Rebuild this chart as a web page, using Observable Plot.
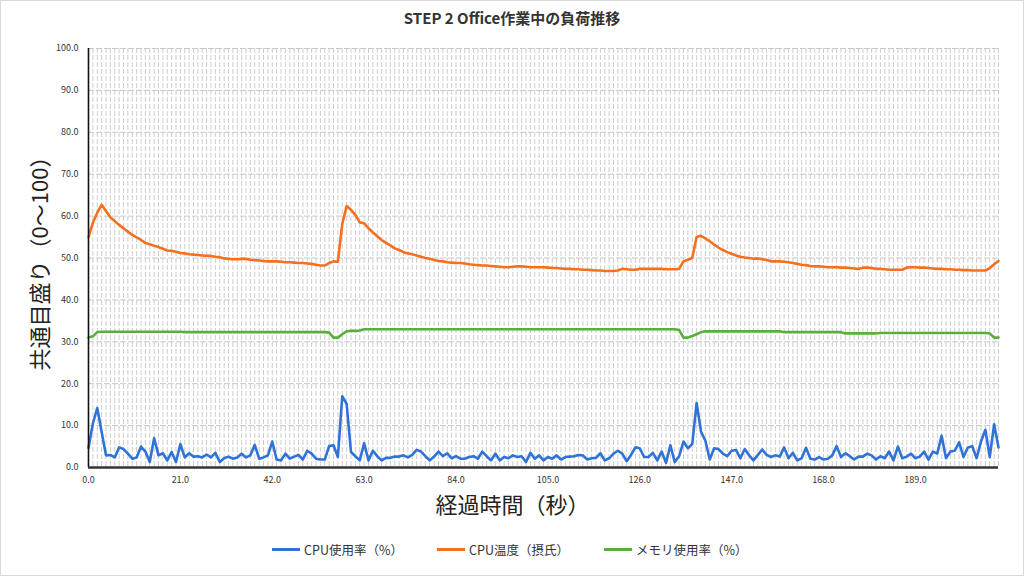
<!DOCTYPE html>
<html><head><meta charset="utf-8">
<script src="https://cdn.jsdelivr.net/npm/d3@7"></script>
<script src="https://cdn.jsdelivr.net/npm/@observablehq/plot@0.6"></script>
<style>
body{margin:0;background:#fff;font-family:"Noto Sans CJK JP","Noto Sans",sans-serif;}
#wrap{position:relative;width:1024px;height:576px;overflow:hidden;background:#fff}
#border{position:absolute;left:0;top:0;width:1022px;height:574px;border:1px solid #d9d9d9;pointer-events:none}
#title{height:36px;line-height:36px;text-align:center;font-weight:bold;font-size:15px;color:#333}
#legend{position:relative;height:51px}
.item{position:absolute;top:15px;display:flex;align-items:center;font-size:12.5px;color:#333;white-space:nowrap}
.sw{width:28px;height:3px;margin-right:4px}
</style></head>
<body><div id="wrap"><div id="title">STEP 2 Office作業中の負荷推移</div><div id="chart"></div><div id="legend"></div><div id="border"></div></div>
<script>
const seriesNames = ["CPU使用率（%）", "CPU温度（摂氏）", "メモリ使用率（%）"];
const seriesColors = ["#2f72d8", "#f5701e", "#5aae3c"];
const xTicks = [0, 21, 42, 63, 84, 105, 126, 147, 168, 189];
const yTicks = [0, 10, 20, 30, 40, 50, 60, 70, 80, 90, 100];

const cpuUsage = [
4.7,10.5,14.2,8.5,2.9,3.0,2.4,4.8,4.4,3.3,
2.1,2.4,5.0,3.8,1.3,7.0,2.9,3.4,1.7,3.7,
1.3,5.6,2.4,3.4,2.6,2.7,2.4,3.1,2.4,3.5,
1.3,2.2,2.6,2.1,2.4,3.3,2.4,2.9,5.4,2.1,
2.4,2.9,6.2,1.9,1.7,3.3,2.1,2.6,3.0,1.9,
4.0,3.3,2.1,1.9,1.9,5.1,5.3,2.5,17.0,15.2,
3.7,2.7,1.7,5.8,1.7,4.0,2.7,1.7,2.3,2.3,
2.6,2.6,2.9,2.4,3.0,4.2,3.8,2.7,1.7,2.6,
3.8,2.7,3.4,2.2,2.7,2.1,2.1,2.5,2.7,2.1,
3.8,2.7,1.7,3.3,1.7,2.5,2.2,2.9,2.5,2.7,
1.3,3.5,2.1,2.9,1.7,2.5,2.1,2.9,1.9,2.5,
2.6,2.7,3.0,2.9,1.9,2.2,2.3,3.4,1.7,2.2,
3.3,4.0,3.3,1.5,3.0,4.8,4.6,2.5,2.5,3.5,
1.7,3.8,1.1,5.3,1.3,2.7,6.2,4.6,5.6,15.4,
8.6,6.4,1.9,4.6,4.4,3.3,2.7,4.0,4.2,2.2,
4.4,2.9,1.7,3.0,4.3,3.0,2.5,2.9,2.6,4.8,
2.2,3.5,1.7,2.2,4.7,2.1,1.9,2.5,1.9,2.1,
2.9,5.1,2.5,3.4,2.7,1.9,2.6,2.6,3.3,2.9,
1.9,2.7,2.2,3.8,1.7,5.0,2.2,2.6,3.3,2.2,
2.6,3.8,1.9,3.8,3.3,7.6,2.2,3.8,4.0,6.0,
2.5,4.8,5.1,2.2,6.2,9.0,2.5,10.3,4.8];

const cpuTemp = [
55.0,58.4,60.8,62.7,61.2,59.7,58.8,57.9,57.1,56.3,
55.5,54.9,54.3,53.6,53.3,52.9,52.6,52.2,51.8,51.7,
51.5,51.2,51.1,50.9,50.8,50.7,50.6,50.5,50.5,50.3,
50.2,49.9,49.8,49.7,49.7,49.8,49.8,49.6,49.5,49.4,
49.3,49.2,49.2,49.2,49.1,49.0,49.0,48.9,48.8,48.8,
48.7,48.6,48.4,48.2,48.2,48.8,49.2,49.1,58.1,62.4,
61.5,60.3,58.5,58.3,57.1,56.1,55.2,54.3,53.6,53.0,
52.3,51.9,51.4,51.1,50.9,50.6,50.3,50.0,49.8,49.5,
49.3,49.2,49.0,48.9,48.8,48.8,48.7,48.5,48.4,48.3,
48.2,48.2,48.1,48.0,47.9,47.8,47.8,47.9,48.0,48.0,
47.9,47.8,47.8,47.8,47.8,47.7,47.6,47.6,47.5,47.4,
47.4,47.3,47.3,47.2,47.2,47.1,47.0,47.0,46.9,46.9,
46.9,47.0,47.4,47.3,47.2,47.2,47.4,47.4,47.4,47.4,
47.4,47.4,47.3,47.3,47.3,47.4,49.2,49.6,50.0,55.0,
55.3,54.7,54.0,53.2,52.5,51.9,51.4,51.0,50.6,50.3,
50.1,50.0,49.8,49.9,49.7,49.5,49.2,49.2,49.2,49.1,
49.0,48.8,48.6,48.4,48.3,48.1,48.0,48.0,47.9,47.8,
47.8,47.8,47.7,47.7,47.6,47.5,47.4,47.7,47.7,47.6,
47.4,47.4,47.3,47.2,47.2,47.2,47.2,47.7,47.8,47.8,
47.7,47.7,47.6,47.5,47.4,47.4,47.3,47.3,47.2,47.2,
47.1,47.1,47.0,47.0,47.0,47.0,47.6,48.5,49.3];

const memUsage = [
31.0,31.3,32.3,32.4,32.4,32.4,32.4,32.4,32.4,32.4,
32.4,32.4,32.4,32.4,32.4,32.4,32.4,32.4,32.4,32.4,
32.4,32.4,32.3,32.3,32.3,32.3,32.3,32.3,32.3,32.3,
32.3,32.3,32.3,32.3,32.3,32.3,32.3,32.3,32.3,32.3,
32.3,32.3,32.3,32.3,32.3,32.3,32.3,32.3,32.3,32.3,
32.3,32.3,32.3,32.3,32.3,32.2,31.0,31.0,31.8,32.5,
32.6,32.6,32.7,33.0,33.0,33.0,33.0,33.0,33.0,33.0,
33.0,33.0,33.0,33.0,33.0,33.0,33.0,33.0,33.0,33.0,
33.0,33.0,33.0,33.0,33.0,33.0,33.0,33.0,33.0,33.0,
33.0,33.0,33.0,33.0,33.0,33.0,33.0,33.0,33.0,33.0,
33.0,33.0,33.0,33.0,33.0,33.0,33.0,33.0,33.0,33.0,
33.0,33.0,33.0,33.0,33.0,33.0,33.0,33.0,33.0,33.0,
33.0,33.0,33.0,33.0,33.0,33.0,33.0,33.0,33.0,33.0,
33.0,33.0,33.0,33.0,33.0,32.8,31.0,31.0,31.4,31.8,
32.3,32.5,32.5,32.5,32.5,32.5,32.5,32.5,32.5,32.5,
32.5,32.5,32.5,32.5,32.5,32.5,32.5,32.5,32.5,32.3,
32.3,32.3,32.3,32.3,32.3,32.3,32.3,32.3,32.3,32.3,
32.3,32.3,32.3,32.0,32.0,32.0,32.0,32.0,32.0,32.0,
32.0,32.1,32.1,32.1,32.1,32.1,32.1,32.1,32.1,32.1,
32.1,32.1,32.1,32.1,32.1,32.1,32.1,32.1,32.1,32.1,
32.1,32.1,32.1,32.1,32.1,32.1,32.0,31.0,31.0];

const seconds = d3.range(cpuUsage.length);
const rows = seconds.map((t, i) => ({t, cpu: cpuUsage[i], temp: cpuTemp[i], mem: memUsage[i]}));
const fmt = d => d.toFixed(1);
const font = '"Noto Sans CJK JP","Noto Sans",sans-serif';

const chart = Plot.plot({
  width: 1024, height: 489,
  marginTop: 12, marginBottom: 58, marginLeft: 88, marginRight: 26,
  style: {fontFamily: font, color: "#333", background: "#fff"},
  x: {domain: [0, seconds.length - 1]},
  y: {domain: [0, 100]},
  marks: [
    Plot.ruleX(seconds, {x: d => d, stroke: "#cdcdcd", strokeWidth: 1, strokeDasharray: "5,2"}),
    Plot.ruleY(yTicks.slice(1), {y: d => d, stroke: "#c8c8c8", strokeWidth: 1, strokeDasharray: "6,2"}),
    Plot.line(rows, {x: "t", y: "cpu", stroke: seriesColors[0], strokeWidth: 2.6}),
    Plot.line(rows, {x: "t", y: "temp", stroke: seriesColors[1], strokeWidth: 2.6}),
    Plot.line(rows, {x: "t", y: "mem", stroke: seriesColors[2], strokeWidth: 2.6}),
    Plot.ruleX([0], {stroke: "#111", strokeWidth: 1.6}),
    Plot.ruleY([0], {stroke: "#333", strokeWidth: 2.6}),
    Plot.axisX(xTicks, {tickSize: 0, tickPadding: 9, tickFormat: fmt, fontSize: 9, label: null}),
    Plot.axisY(yTicks, {tickSize: 0, tickPadding: 10, tickFormat: fmt, fontSize: 9, label: null}),
    Plot.text(["経過時間（秒）"], {frameAnchor: "bottom", lineAnchor: "middle", textAnchor: "middle", dy: 38, dx: -31, fontSize: 22, fill: "#222"}),
    Plot.text(["共通目盛り（0〜100）"], {frameAnchor: "left", lineAnchor: "middle", textAnchor: "middle", dx: -48, rotate: -90, fontSize: 22, fill: "#222"})
  ]
});
document.getElementById("chart").appendChild(chart);

const lefts = [272, 437, 604];
const legend = document.getElementById("legend");
seriesNames.forEach((name, i) => {
  const it = document.createElement("div");
  it.className = "item";
  it.style.left = lefts[i] + "px";
  const sw = document.createElement("div");
  sw.className = "sw";
  sw.style.background = seriesColors[i];
  const tx = document.createElement("span");
  tx.textContent = name;
  it.appendChild(sw); it.appendChild(tx);
  legend.appendChild(it);
});
</script></body></html>
